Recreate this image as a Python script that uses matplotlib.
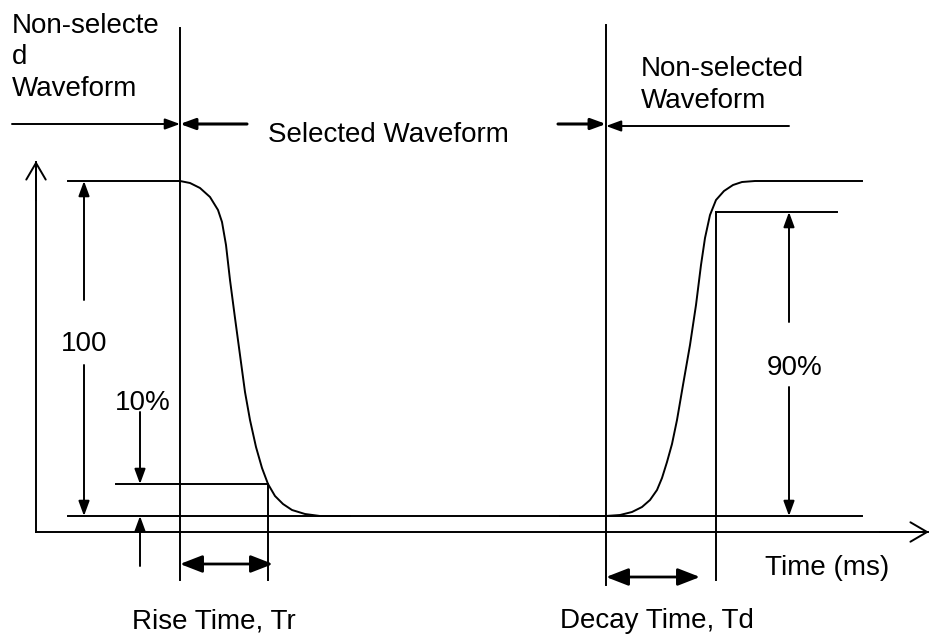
import matplotlib.pyplot as plt

plt.rcParams['font.family'] = ['Liberation Sans', 'DejaVu Sans']

# levels of the waveform (pixel-style diagram coordinates, y grows downward)
level_high = 181
level_low = 516
level_10 = 484
level_90 = 212
axis_y = 532

# selection boundaries
t_select_start = 180
t_select_end = 606
t_rise_end = 268
t_decay_end = 716

# falling edge of the waveform
fall_x = [68, 180, 190, 200, 210, 218, 222, 226, 230, 235, 240, 245, 250, 256,
          262, 268, 275, 283, 292, 305, 320, 350]
fall_y = [181, 181, 183, 188, 197, 210, 222, 245, 280, 318, 355, 392, 420, 447,
          468, 484, 496, 504, 510, 514, 516, 516]

# rising edge of the waveform
rise_x = [560, 606, 620, 632, 642, 650, 657, 662, 667, 672, 677, 683, 690, 696,
          701, 705, 710, 716, 724, 733, 742, 755, 862]
rise_y = [516, 516, 515, 512, 507, 500, 490, 478, 462, 444, 420, 385, 345, 305,
          265, 238, 215, 200, 191, 185, 182, 181, 181]

fig = plt.figure(figsize=(9.3, 6.34), dpi=100)
ax = fig.add_axes([0, 0, 1, 1])
ax.set_xlim(0, 930)
ax.set_ylim(634, 0)
ax.axis('off')

lw = 1.4
k = 'black'


def arrow(x0, y0, x1, y1, lw=1.4):
    ax.annotate('', xy=(x1, y1), xytext=(x0, y0),
                arrowprops=dict(arrowstyle='-|>,head_length=0.6,head_width=0.22',
                                color=k, lw=lw, shrinkA=0, shrinkB=0,
                                mutation_scale=15))


def open_arrow(x0, y0, x1, y1):
    ax.annotate('', xy=(x1, y1), xytext=(x0, y0),
                arrowprops=dict(arrowstyle='->,head_length=0.6,head_width=0.35',
                                color=k, lw=lw, shrinkA=0, shrinkB=0,
                                mutation_scale=20))


def double_arrow(x0, x1, y):
    ax.annotate('', xy=(x1, y), xytext=(x0, y),
                arrowprops=dict(arrowstyle='<|-|>,head_length=0.9,head_width=0.35',
                                color=k, lw=2, shrinkA=0, shrinkB=0,
                                mutation_scale=15))


# waveform
ax.plot(fall_x, fall_y, color=k, lw=lw)
ax.plot(rise_x, rise_y, color=k, lw=lw)

# reference levels
ax.plot([68, 862], [level_low, level_low], color=k, lw=lw)
ax.plot([116, t_rise_end], [level_10, level_10], color=k, lw=lw)
ax.plot([t_decay_end, 837], [level_90, level_90], color=k, lw=lw)

# vertical markers
ax.plot([t_select_start, t_select_start], [28, 580], color=k, lw=lw)
ax.plot([t_select_end, t_select_end], [25, 585], color=k, lw=lw)
ax.plot([t_rise_end, t_rise_end], [level_10, 580], color=k, lw=lw)
ax.plot([t_decay_end, t_decay_end], [level_90, 580], color=k, lw=lw)

# axes
ax.plot([36, 36], [axis_y, 162], color=k, lw=lw)
open_arrow(36, 200, 36, 161)
ax.plot([36, 928], [axis_y, axis_y], color=k, lw=lw)
open_arrow(880, axis_y, 929, axis_y)

# selection arrows
arrow(12, 124, t_select_start, 124)
arrow(247, 124, t_select_start, 124, lw=2.2)
arrow(558, 124, t_select_end, 124, lw=2.2)
arrow(789, 126, t_select_end, 126)

# 100 dimension
arrow(84, 300, 84, level_high)
arrow(84, 365, 84, level_low)
# 10% dimension
arrow(140, 412, 140, level_10)
arrow(140, 566, 140, level_low)
# 90% dimension
arrow(789, 322, 789, level_90)
arrow(789, 387, 789, level_low)

# time spans
double_arrow(t_select_start, 273, 564)
double_arrow(t_select_end, 700, 577)

# labels (baseline positions)
fs = 20
txt = dict(fontsize=fs, va='baseline')
ax.text(12, 33, 'Non-selecte', ha='left', **txt)
ax.text(12, 64, 'd', ha='left', **txt)
ax.text(12, 96, 'Waveform', ha='left', **txt)
ax.text(641, 76, 'Non-selected', ha='left', **txt)
ax.text(641, 108, 'Waveform', ha='left', **txt)
ax.text(388, 142, 'Selected Waveform', ha='center', **txt)
ax.text(84, 351, '100', ha='center', **txt)
ax.text(143, 410, '10%', ha='center', **txt)
ax.text(795, 375, '90%', ha='center', **txt)
ax.text(827, 575, 'Time (ms)', ha='center', **txt)
ax.text(214, 628, 'Rise Time, Tr', ha='center', **txt)
ax.text(657, 628, 'Decay Time, Td', ha='center', **txt)

fig.savefig('out.png', dpi=100, facecolor='white')
